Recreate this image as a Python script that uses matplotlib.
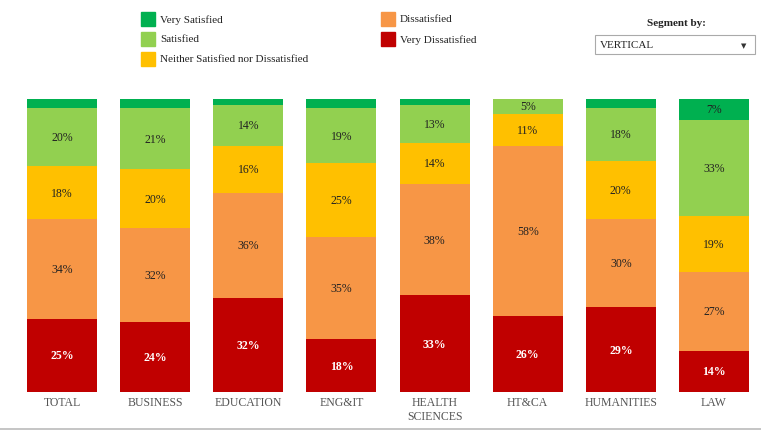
import matplotlib.pyplot as plt
import numpy as np

# Satisfaction survey by vertical, stacked to 100%
categories = ['TOTAL', 'BUSINESS', 'EDUCATION', 'ENG&IT', 'HEALTH\nSCIENCES',
              'HT&CA', 'HUMANITIES', 'LAW']
very_dissatisfied = [25, 24, 32, 18, 33, 26, 29, 14]
dissatisfied = [34, 32, 36, 35, 38, 58, 30, 27]
neither = [18, 20, 16, 25, 14, 11, 20, 19]
satisfied = [20, 21, 14, 19, 13, 5, 18, 33]
very_satisfied = [3, 3, 2, 3, 2, 0, 3, 7]

series = [
    ('Very Dissatisfied', very_dissatisfied, '#C00000', 'white', 'bold'),
    ('Dissatisfied', dissatisfied, '#F79646', '#222222', 'normal'),
    ('Neither Satisfied nor Dissatisfied', neither, '#FFC000', '#222222', 'normal'),
    ('Satisfied', satisfied, '#92D050', '#222222', 'normal'),
    ('Very Satisfied', very_satisfied, '#00B050', '#222222', 'normal'),
]

plt.rcParams['font.family'] = ['Liberation Serif', 'DejaVu Serif']

fig = plt.figure(figsize=(7.61, 4.31), dpi=100)
ax = fig.add_axes([15.5 / 761, 38 / 431, 745 / 761, 293 / 431])

x = np.arange(len(categories))
bottom = np.zeros(len(categories))
for name, vals, color, tcolor, weight in series:
    vals = np.array(vals, dtype=float)
    ax.bar(x, vals, 0.753, bottom=bottom, color=color, linewidth=0)
    for xi, b, v in zip(x, bottom, vals):
        if v >= 5:
            ax.text(xi, b + v / 2, f'{int(v)}%', ha='center', va='center',
                    fontsize=8.5, color=tcolor, fontweight=weight)
    bottom += vals

ax.set_xlim(-0.5, len(categories) - 0.5)
ax.set_ylim(0, 100)
ax.set_xticks(x)
ax.set_xticklabels(categories, fontsize=8.5, color='#555555', linespacing=1.15)
ax.tick_params(axis='x', length=0, pad=3)
ax.set_yticks([])
for s in ax.spines.values():
    s.set_visible(False)

# legend drawn as in the reference page
def px(xp, yp):
    return xp / 761, 1 - yp / 431

legend_items = [
    ('Very Satisfied', '#00B050', 141, 20),
    ('Satisfied', '#92D050', 141, 40),
    ('Neither Satisfied nor Dissatisfied', '#FFC000', 141, 60),
    ('Dissatisfied', '#F79646', 381, 20),
    ('Very Dissatisfied', '#C00000', 381, 40),
]
for label, color, lx, ly in legend_items:
    fx, fy = px(lx, ly + 7)
    fig.patches.append(plt.Rectangle((fx, fy), 14 / 761, 14 / 431, color=color,
                                     transform=fig.transFigure, figure=fig))
    tx, ty = px(lx + 19, ly)
    fig.text(tx, ty, label, fontsize=8, color='#222222', va='center')

# "Segment by" dropdown
sx, sy = px(676, 24)
fig.text(sx, sy, 'Segment by:', fontsize=8, fontweight='bold', color='#222222',
         ha='center', va='center')
bx, by = px(595, 55)
fig.patches.append(plt.Rectangle((bx, by), 160 / 761, 19 / 431, facecolor='white',
                                 edgecolor='#aaaaaa', linewidth=0.8,
                                 transform=fig.transFigure, figure=fig))
tx, ty = px(600, 46)
fig.text(tx, ty, 'VERTICAL', fontsize=8, color='#222222', va='center')
ax_, ay_ = px(744, 46)
fig.text(ax_, ay_, '▼', fontsize=5, color='#333333', ha='center', va='center',
         family='DejaVu Sans')

# bottom border line
fig.add_artist(plt.Line2D([0, 1], [1.5 / 431, 1.5 / 431], color='#bbbbbb',
                          linewidth=1.2, transform=fig.transFigure))

fig.savefig('out.png', dpi=100)
